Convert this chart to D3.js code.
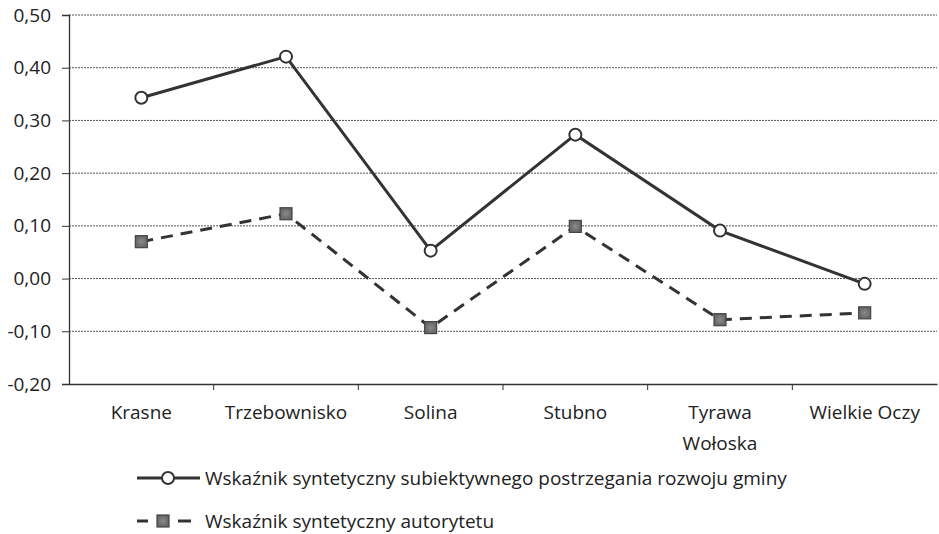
<!DOCTYPE html>
<html><head><meta charset="utf-8">
<script src="https://cdn.jsdelivr.net/npm/d3@7"></script>
<style>body{margin:0;background:#fff}svg{display:block}text{font-family:"Open Sans",sans-serif;fill:#222}</style>
</head><body><svg id="c" width="939" height="534"></svg>
<script>
const categories = ["Krasne","Trzebownisko","Solina","Stubno","Tyrawa Wołoska","Wielkie Oczy"];
const categoryLines = [["Krasne"],["Trzebownisko"],["Solina"],["Stubno"],["Tyrawa","Wołoska"],["Wielkie Oczy"]];
const seriesDev = [0.343, 0.421, 0.053, 0.273, 0.091, -0.010];
const seriesAuth = [0.070, 0.123, -0.093, 0.099, -0.078, -0.065];
const seriesNames = ["Wskaźnik syntetyczny subiektywnego postrzegania rozwoju gminy","Wskaźnik syntetyczny autorytetu"];
const yTicks = [-0.2,-0.1,0,0.1,0.2,0.3,0.4,0.5];

const svg = d3.select("#c");
const L = 69, R = 937, T = 15, B = 384;
const FS = 19;
const x = d3.scaleBand().domain(categories).range([L, R]);
const y = d3.scaleLinear().domain([-0.2, 0.5]).range([B, T]);
const fmt = v => d3.format(".2f")(v).replace(".", ",").replace("−","-");

const defs = svg.append("defs");
const g = defs.append("radialGradient").attr("id","sq");
g.append("stop").attr("offset","0%").attr("stop-color","#8a8a8a");
g.append("stop").attr("offset","100%").attr("stop-color","#666");

// gridlines
svg.append("g").selectAll("line").data(yTicks.filter(d=>d>-0.2)).join("line")
  .attr("x1", L).attr("x2", R).attr("y1", d=>y(d)).attr("y2", d=>y(d))
  .attr("stroke","#555").attr("stroke-width",1).attr("stroke-dasharray","2,1");

// y axis
const ya = svg.append("g").attr("transform",`translate(${L},0)`)
  .call(d3.axisLeft(y).tickValues(yTicks).tickFormat(fmt).tickSize(7).tickPadding(11));
ya.select(".domain").attr("stroke","#333").attr("stroke-width",1.3);
ya.selectAll(".tick line").attr("stroke","#333");
ya.selectAll("text").attr("font-size",FS).style("fill","#222");

// x axis
const xa = svg.append("g").attr("transform",`translate(0,${B})`)
  .call(d3.axisBottom(x).tickSize(0).tickFormat(""));
xa.select(".domain").attr("stroke","#333").attr("stroke-width",1.3);
const bounds = [L, ...categories.map(c => x(c) + x.bandwidth())];
svg.append("g").selectAll("line").data(bounds.slice(1,-1)).join("line")
  .attr("x1",d=>d).attr("x2",d=>d).attr("y1",B).attr("y2",B+6).attr("stroke","#333");
svg.append("g").selectAll("text").data(categories).join("text")
  .attr("x", d=>x(d)+x.bandwidth()/2).attr("y", B+35).attr("text-anchor","middle").attr("font-size",FS)
  .each(function(d,i){
    d3.select(this).selectAll("tspan").data(categoryLines[i]).join("tspan")
      .attr("x", x(d)+x.bandwidth()/2).attr("dy",(t,j)=>j?31:0).text(t=>t);
  });

const cx = c => x(c) + x.bandwidth()/2;
const line = d3.line().x((d,i)=>cx(categories[i])).y(d=>y(d));

svg.append("path").datum(seriesAuth).attr("d", line).attr("fill","none")
  .attr("stroke","#333").attr("stroke-width",3).attr("stroke-dasharray","12,8");
svg.append("path").datum(seriesDev).attr("d", line).attr("fill","none")
  .attr("stroke","#333").attr("stroke-width",3);

svg.append("g").selectAll("rect").data(seriesAuth).join("rect")
  .attr("x",(d,i)=>cx(categories[i])-6).attr("y",d=>y(d)-6).attr("width",12).attr("height",12)
  .attr("fill","url(#sq)").attr("stroke","#444").attr("stroke-width",1.2);
svg.append("g").selectAll("circle").data(seriesDev).join("circle")
  .attr("cx",(d,i)=>cx(categories[i])).attr("cy",d=>y(d)).attr("r",6)
  .attr("fill","#fff").attr("stroke","#333").attr("stroke-width",2);

// legend
const lg = svg.append("g");
lg.append("line").attr("x1",137).attr("x2",200).attr("y1",478).attr("y2",478).attr("stroke","#333").attr("stroke-width",3);
lg.append("circle").attr("cx",168).attr("cy",478).attr("r",6).attr("fill","#fff").attr("stroke","#333").attr("stroke-width",2);
lg.append("text").attr("x",205).attr("y",485).attr("font-size",FS).text(seriesNames[0]);
lg.append("line").attr("x1",137).attr("x2",191).attr("y1",521).attr("y2",521).attr("stroke","#333").attr("stroke-width",3).attr("stroke-dasharray","11,30,13");
lg.append("rect").attr("x",157).attr("y",515).attr("width",12).attr("height",12).attr("fill","url(#sq)").attr("stroke","#444").attr("stroke-width",1.2);
lg.append("text").attr("x",205).attr("y",528).attr("font-size",FS).text(seriesNames[1]);
</script></body></html>
